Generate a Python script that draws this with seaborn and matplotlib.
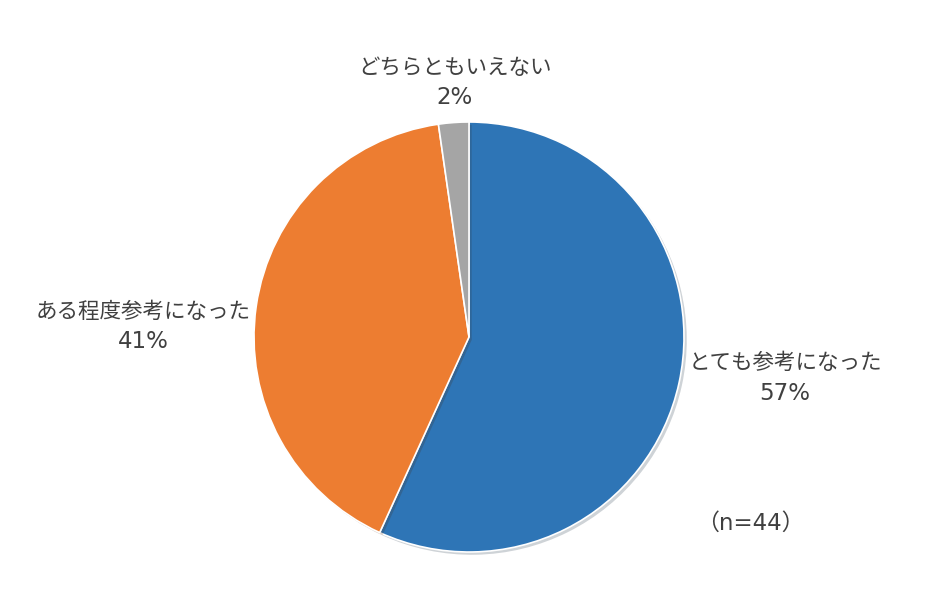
import numpy as np
import matplotlib.pyplot as plt
import matplotlib.patheffects as pe
import seaborn as sns

# データ (n=44)
labels = ["とても参考になった", "ある程度参考になった", "どちらともいえない"]
counts = [25, 18, 1]
colors = ["#2E75B6", "#ED7D31", "#A5A5A5"]
note = "（n=44）"

sns.set_theme(style="white")
plt.rcParams['font.family'] = ['DejaVu Sans', 'Noto Sans CJK JP']

fig = plt.figure(figsize=(9.34, 6.10), dpi=100)
ax = fig.add_axes([0, 0, 1, 1])

wedges, _ = ax.pie(counts, colors=colors, startangle=90, counterclock=False,
                   center=(469, 273), radius=215, frame=True,
                   wedgeprops=dict(edgecolor="white", linewidth=1.2))
for w in wedges:
    w.set_path_effects([pe.SimplePatchShadow(offset=(2, -2), alpha=0.2), pe.Normal()])
ax.set_xlim(0, 934)
ax.set_ylim(0, 610)
ax.set_aspect("equal")
ax.axis("off")

total = sum(counts)
pcts = [f"{round(c / total * 100)}%" for c in counts]

# ラベル位置 (ピクセル座標, 上から)
label_pos = [(785, 363), (143, 312), (455, 68)]
txt = "#404040"
for name, pct, (x, y) in zip(labels, pcts, label_pos):
    ax.text(x, 610 - y, name, ha="center", va="center", fontsize=15.5, color=txt,
            family="Noto Sans CJK JP")
    ax.text(x, 610 - y - 30, pct, ha="center", va="center", fontsize=16.5, color=txt)

ax.text(750, 610 - 523, note, ha="center", va="center", fontsize=16.5, color=txt)

fig.savefig("out.png", dpi=100, facecolor="white")
